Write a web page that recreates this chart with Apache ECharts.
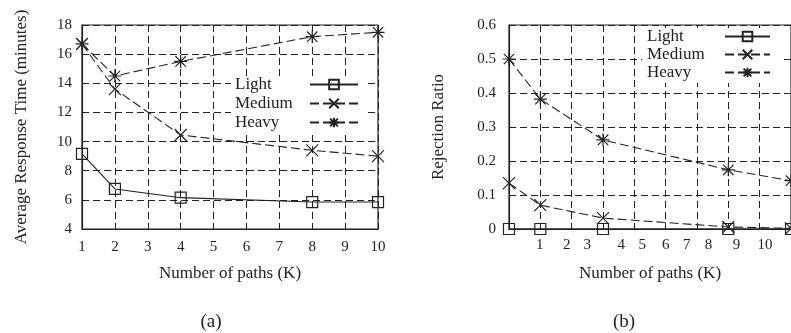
<!DOCTYPE html>
<html><head><meta charset="utf-8">
<script src="https://cdn.jsdelivr.net/npm/echarts@6/dist/echarts.min.js"></script>
<style>html,body{margin:0;padding:0;background:#fff}#c{width:791px;height:333px}</style>
</head><body><div id="c"></div>
<script>
// ---- data ----
const seriesNames = ['Light', 'Medium', 'Heavy'];
// panel (a)
const xA = [1, 2, 4, 8, 10];
const lightA = [9.15, 6.75, 6.15, 5.85, 5.85];
const mediumA = [16.7, 13.6, 10.45, 9.4, 9.0];
const heavyA = [16.7, 14.5, 15.5, 17.2, 17.5];
const xTickLabelsA = ['1', '2', '3', '4', '5', '6', '7', '8', '9', '10'];
// panel (b)
const xB = [0, 1, 3, 7, 9];
const lightB = [0, 0, 0, 0, 0];
const mediumB = [0.135, 0.07, 0.032, 0.006, 0.002];
const heavyB = [0.5, 0.382, 0.262, 0.174, 0.142];
const xTickLabelsB = ['1', '2', '3', '4', '5', '6', '7', '8', '9', '10'];
const xTickPosB = [0.98, 1.84, 2.5, 3.58, 4.25, 5.0, 5.67, 6.37, 7.26, 8.17];

// ---- styles ----
const FONT = 'Liberation Serif';
const INK = '#222';
const SQUARE = 'path://M0,0L10,0L10,10L0,10Z';
const CROSS = 'path://M0,0L10,10M10,0L0,10';
const STAR = 'path://M5,0L5,10M0,5L10,5M1,1L9,9M9,1L1,9';
const gridLine = { show: true, lineStyle: { color: INK, width: 1, type: [7, 4] } };
const markStyle = { color: 'rgba(0,0,0,0)', borderColor: INK, borderWidth: 1.2 };

function mk(name, xs, ys, idx, symbol, size, dash) {
  return {
    name, type: 'line', xAxisIndex: idx, yAxisIndex: idx,
    data: xs.map((x, i) => [x, ys[i]]),
    symbol, symbolSize: size, showSymbol: true,
    itemStyle: markStyle,
    lineStyle: { color: INK, width: 1.1, type: dash },
    emphasis: { disabled: true }, animation: false
  };
}

const axisName = { fontFamily: FONT, fontSize: 17, color: INK };
const tickLab = { fontFamily: FONT, fontSize: 15, color: INK };
function legendText(w) {
  return {
    fontFamily: FONT, fontSize: 17, color: INK, lineHeight: 17,
    rich: { t: { width: w, align: 'left', fontFamily: FONT, fontSize: 17, color: INK, lineHeight: 17 } }
  };
}

const option = {
  animation: false,
  title: [
    { text: '(a)', left: 206, top: 308, textAlign: 'center',
      textStyle: { fontFamily: FONT, fontSize: 19, fontWeight: 'normal', color: INK } },
    { text: '(b)', left: 619, top: 308, textAlign: 'center',
      textStyle: { fontFamily: FONT, fontSize: 19, fontWeight: 'normal', color: INK } }
  ],
  grid: [
    { left: 82, right: 413, top: 25, bottom: 104, show: true, borderColor: INK, borderWidth: 1.2, backgroundColor: 'transparent' },
    { left: 509, right: -2, top: 25, bottom: 104, show: true, borderColor: INK, borderWidth: 1.2, backgroundColor: 'transparent' }
  ],
  legend: [
    { data: seriesNames, orient: 'vertical', left: 231, top: 76, align: 'right',
      itemWidth: 48, itemHeight: 12, itemGap: 2, padding: [0, 8, 4, 4],
      backgroundColor: '#fff', selectedMode: false,
      formatter: n => `{t|${n}}`, textStyle: legendText(70) },
    { data: seriesNames, orient: 'vertical', left: 642, top: 28, align: 'right',
      itemWidth: 45, itemHeight: 12, itemGap: 1, padding: [0, 10, 2, 5],
      backgroundColor: '#fff', selectedMode: false,
      formatter: n => `{t|${n}}`, textStyle: legendText(73) }
  ],
  xAxis: [
    { type: 'value', gridIndex: 0, min: 1, max: 10, interval: 1,
      name: 'Number of paths (K)', nameLocation: 'middle', nameGap: 36, nameTextStyle: axisName,
      axisLine: { show: true, lineStyle: { color: INK, width: 1.2 } },
      axisTick: { show: false }, splitLine: gridLine,
      axisLabel: { ...tickLab, margin: 11, formatter: v => xTickLabelsA[v - 1] } },
    { type: 'value', gridIndex: 1, min: 0, max: 9, interval: 1,
      name: 'Number of paths (K)', nameLocation: 'middle', nameGap: 36, nameTextStyle: axisName,
      axisLine: { show: true, onZero: false, lineStyle: { color: INK, width: 1.2 } },
      axisTick: { show: false }, splitLine: gridLine,
      axisLabel: { ...tickLab, margin: 9, showMinLabel: true, showMaxLabel: true,
        customValues: xTickPosB,
        formatter: v => {
          let best = 0;
          xTickPosB.forEach((p, i) => { if (Math.abs(p - v) < Math.abs(xTickPosB[best] - v)) best = i; });
          return xTickLabelsB[best];
        } } }
  ],
  yAxis: [
    { type: 'value', gridIndex: 0, min: 4, max: 18, interval: 2,
      name: 'Average Response Time (minutes)', nameLocation: 'middle', nameGap: 52, nameTextStyle: axisName,
      axisLine: { show: true, lineStyle: { color: INK, width: 1.2 } },
      axisTick: { show: false }, splitLine: gridLine,
      axisLabel: { ...tickLab, margin: 10 } },
    { type: 'value', gridIndex: 1, min: 0, max: 0.6, interval: 0.1,
      name: 'Rejection Ratio', nameLocation: 'middle', nameGap: 62, nameTextStyle: axisName,
      axisLine: { show: true, lineStyle: { color: INK, width: 1.2 } },
      axisTick: { show: false }, splitLine: gridLine,
      axisLabel: { ...tickLab, margin: 13 } }
  ],
  series: [
    mk('Light', xA, lightA, 0, SQUARE, 11, 'solid'),
    mk('Medium', xA, mediumA, 0, CROSS, 12, [9, 4]),
    mk('Heavy', xA, heavyA, 0, STAR, 13, [9, 4]),
    mk('Light', xB, lightB, 1, SQUARE, 11, 'solid'),
    mk('Medium', xB, mediumB, 1, CROSS, 12, [9, 4]),
    mk('Heavy', xB, heavyB, 1, STAR, 13, [9, 4])
  ]
};
const chart = echarts.init(document.getElementById('c'), null, { renderer: 'canvas' });
chart.setOption(option);
</script></body></html>
